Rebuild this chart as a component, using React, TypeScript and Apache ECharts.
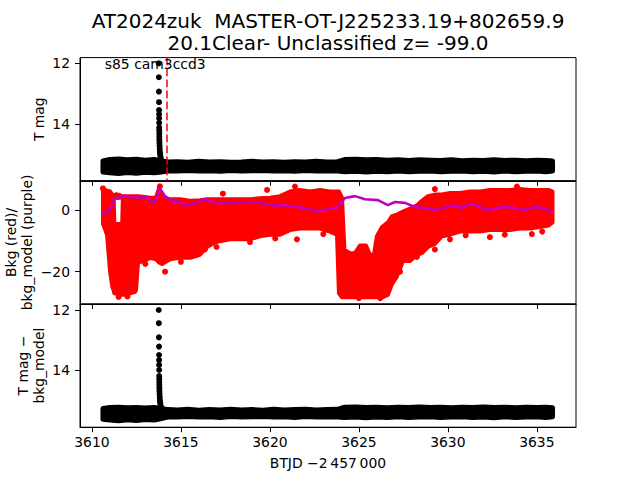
import React, { useEffect, useRef } from "react";
import * as echarts from "echarts";

// ---------- axes ----------
const X_MIN = 3609.33;
const X_MAX = 3637.2;
const xTicks = [3610, 3615, 3620, 3625, 3630, 3635];
const magTicks = [12, 14];
const bkgTicks = [-20, 0];

// ---------- panel 1 / 3 : quiescent band (envelope of the dense points) ----------
const bandTimes = [
  3610.62, 3611.0, 3611.5, 3612.0, 3612.5, 3613.0, 3613.5, 3613.9, 3614.3, 3614.8,
  3615.4, 3616.0, 3616.6, 3617.2, 3617.8, 3618.4, 3619.0, 3619.6, 3620.2, 3620.8,
  3621.4, 3622.0, 3622.6, 3623.2, 3623.8, 3624.2, 3624.8, 3625.4, 3626.0, 3626.6,
  3627.2, 3627.8, 3628.4, 3629.0, 3629.6, 3630.2, 3630.8, 3631.4, 3632.0, 3632.6,
  3633.2, 3633.8, 3634.4, 3635.0, 3635.5, 3635.88,
];
const magBright = [
  15.22, 15.17, 15.15, 15.18, 15.16, 15.19, 15.17, 15.22, 15.25, 15.24,
  15.26, 15.23, 15.25, 15.24, 15.26, 15.25, 15.23, 15.25, 15.24, 15.26,
  15.24, 15.25, 15.23, 15.25, 15.24, 15.17, 15.16, 15.18, 15.17, 15.19,
  15.18, 15.2, 15.18, 15.19, 15.2, 15.18, 15.21, 15.19, 15.2, 15.18,
  15.2, 15.19, 15.21, 15.19, 15.2, 15.22,
];
const magFaint = [
  15.58, 15.61, 15.63, 15.6, 15.62, 15.59, 15.61, 15.58, 15.54, 15.55,
  15.53, 15.55, 15.54, 15.56, 15.53, 15.55, 15.54, 15.53, 15.55, 15.54,
  15.56, 15.53, 15.55, 15.54, 15.55, 15.57, 15.56, 15.58, 15.56, 15.57,
  15.55, 15.57, 15.56, 15.55, 15.57, 15.56, 15.55, 15.57, 15.56, 15.58,
  15.55, 15.57, 15.56, 15.55, 15.57, 15.55,
];
const diffBright = [
  15.28, 15.25, 15.24, 15.26, 15.25, 15.27, 15.25, 15.28, 15.32, 15.33,
  15.31, 15.34, 15.32, 15.33, 15.31, 15.33, 15.32, 15.34, 15.31, 15.33,
  15.32, 15.31, 15.33, 15.32, 15.31, 15.24, 15.23, 15.25, 15.24, 15.26,
  15.24, 15.25, 15.23, 15.25, 15.24, 15.26, 15.24, 15.25, 15.23, 15.25,
  15.24, 15.26, 15.24, 15.25, 15.24, 15.26,
];
const diffFaint = [
  15.64, 15.67, 15.69, 15.66, 15.68, 15.65, 15.67, 15.62, 15.56, 15.57,
  15.55, 15.57, 15.56, 15.58, 15.55, 15.57, 15.56, 15.55, 15.57, 15.56,
  15.58, 15.55, 15.57, 15.56, 15.57, 15.58, 15.57, 15.59, 15.57, 15.58,
  15.56, 15.58, 15.57, 15.56, 15.58, 15.57, 15.56, 15.58, 15.57, 15.59,
  15.56, 15.58, 15.57, 15.56, 15.58, 15.56,
];

// ---------- flare points ----------
const flareTimes = [
  3613.755, 3613.76, 3613.765, 3613.77, 3613.772, 3613.774, 3613.776, 3613.778, 3613.78, 3613.782,
  3613.785, 3613.788, 3613.79, 3613.795, 3613.8, 3613.81, 3613.82, 3613.835, 3613.85, 3613.87,
];
const flareMags = [
  12.0, 12.46, 12.93, 13.28, 13.54, 13.68, 13.81, 13.96, 14.12, 14.22,
  14.32, 14.42, 14.52, 14.62, 14.72, 14.82, 14.92, 15.0, 15.08, 15.15,
];
const flareDiff = [
  12.0, 12.44, 12.91, 13.22, 13.5, 13.67, 13.83, 14.0, 14.2, 14.3,
  14.4, 14.5, 14.6, 14.7, 14.8, 14.9, 15.0, 15.08, 15.16, 15.22,
];
const markerTime = 3614.2;

// ---------- panel 2 : background (red envelope) ----------
const bkgTimes = [
  3610.62, 3610.85, 3611.02, 3611.15, 3611.22, 3611.26, 3611.7, 3611.74, 3611.8, 3612.14,
  3612.42, 3612.48, 3612.59, 3612.98, 3613.26, 3613.6, 3613.77, 3613.94, 3614.39, 3614.95,
  3615.51, 3616.07, 3616.46, 3616.91, 3617.76, 3618.88, 3619.44, 3620.0, 3620.57, 3621.13,
  3621.69, 3622.25, 3622.81, 3623.37, 3623.77, 3623.88, 3624.05, 3624.19, 3624.5, 3624.78,
  3625.06, 3625.4, 3625.62, 3625.85, 3626.01, 3626.3, 3626.63, 3626.86, 3627.14, 3627.48,
  3627.87, 3628.26, 3628.54, 3628.88, 3629.27, 3629.67, 3630.12, 3630.68, 3631.24, 3631.8,
  3632.36, 3632.93, 3633.49, 3634.05, 3634.61, 3635.17, 3635.66, 3635.88,
];
const bkgHigh = [
  6.5, 6.3, 6.0, 5.0, 4.5, -4.5, -4.5, 4.5, 4.5, 4.5,
  4.5, 4.5, 4.5, 4.2, 4.0, 4.0, 7.0, 4.0, 3.5, 3.5,
  3.0, 3.2, 3.5, 3.5, 3.5, 3.5, 3.8, 4.0, 4.5, 6.0,
  6.5, 6.0, 6.5, 6.0, 6.0, 6.0, 4.0, -13, -14, -14,
  -11.5, -11.5, -14.5, -14.5, -8.5, -5.5, -4, -2, -1.5, -0.5,
  0.5, 1.5, 3, 4.5, 5, 5, 5.5, 5.5, 6, 6,
  6.5, 6.5, 6.5, 6.8, 6.5, 6.5, 6.5, 6,
];
const bkgLow = [
  -4.5, -8, -20, -25, -26, -27, -27.5, -27.5, -27.5, -27,
  -26.5, -26, -17, -16.5, -15.5, -16, -17, -17.5, -16, -15.5,
  -15.5, -14.5, -12, -10.5, -9.5, -9.5, -8.5, -8, -8, -6.5,
  -6, -6, -6, -7, -8, -27, -28.3, -28.3, -28.3, -28.3,
  -28.3, -28.3, -28.3, -28.3, -28.3, -28.3, -27.5, -24, -21.5, -16.5,
  -16.5, -14.5, -14, -12, -11, -8.5, -8, -7, -7, -7,
  -6.5, -6.5, -6.5, -6, -6, -5.5, -5, -4,
];
// isolated red points outside the envelope
const bkgOutTimes = [
  3611.3, 3611.38, 3611.46, 3611.54, 3611.62, 3614.11, 3616.35, 3618.88, 3621.52, 3627.31,
  3628.26, 3629.27, 3632.36, 3634.72, 3630.12, 3633.88, 3629.27, 3621.41, 3619.84, 3617.36,
  3613.82, 3610.62, 3612.0, 3611.5, 3625.0, 3626.2, 3613.0, 3615.0, 3617.0, 3620.3,
  3623.0, 3631.0, 3633.2, 3635.3,
];
const bkgOutValues = [
  4.4, 4.8, 4.2, 4.6, 4.3, -20.0, -12.8, -10.4, -9.5, -20.0,
  -15.2, -12.8, -8.8, -7.8, -9.5, 7.6, 6.8, 7.6, 6.5, 5.3,
  7.7, 7.0, -28.0, -28.2, -28.6, -28.6, -17.5, -16.8, -12.0, -9.2,
  -7.8, -8.2, -8.0, -7.0,
];

// ---------- panel 2 : background model (purple line) ----------
const modelTimes = [
  3610.55, 3611.02, 3611.3, 3611.86, 3612.42, 3612.98, 3613.54, 3613.82, 3614.11, 3614.5,
  3614.84, 3615.34, 3615.79, 3616.35, 3616.91, 3618.04, 3619.16, 3620.12, 3621.02, 3621.97,
  3622.7, 3623.37, 3623.77, 3624.22, 3624.78, 3625.34, 3626.07, 3626.63, 3627.03, 3627.59,
  3628.15, 3628.71, 3629.27, 3629.84, 3630.4, 3630.79, 3631.13, 3631.69, 3632.25, 3633.04,
  3633.6, 3634.33, 3634.89, 3635.44, 3635.88,
];
const modelValues = [
  -1.5, 0, 3.8, 4.6, 4.0, 4.2, 2.5, 7.0, 4.5, 2.8,
  2.8, 1.4, 2.3, 3.5, 2.3, 2.3, 2.6, 1.6, 1.4, 0.6,
  -0.5, 0.6, 0.6, 3.9, 4.5, 3.5, 3.2, 1.6, 2.6, 2.3,
  1.0, 0.6, 0.0, 0.8, 1.6, 0.6, 2.0, 1.3, 0.0, 1.0,
  0.8, 0.0, 1.0, 0.6, -0.8,
];

// ---------- texts ----------
const titleLines = ["AT2024zuk  MASTER-OT-J225233.19+802659.9", "20.1Clear- Unclassified z= -99.0"];
const sectorLabel = "s85 cam3ccd3";
const yTitles = ["T mag", "Bkg (red)/\nbkg_model (purple)", "T mag \u2212\nbkg_model"];
const xTitle = "BTJD \u22122\u2009457\u2009000";

const FONT = "DejaVu Sans";
const GRID_LEFT = 80;
const GRID_WIDTH = 496;
const GRID_TOPS = [57.6, 180.8, 304];
const GRID_H = 123.2;

function bandSeries(idx: number, times: number[], a: number[], b: number[], color: string, lw: number, z: number) {
  return {
    type: "custom",
    xAxisIndex: idx,
    yAxisIndex: idx,
    silent: true,
    z,
    data: times.map((t, i) => [t, a[i], b[i]]),
    encode: { x: 0, y: [1, 2] },
    renderItem: (params: any, api: any) => {
      if (params.dataIndex !== 0) return null;
      const upper = times.map((t, i) => api.coord([t, a[i]]));
      const lower = times.map((t, i) => api.coord([t, b[i]])).reverse();
      return {
        type: "polygon",
        shape: { points: upper.concat(lower) },
        style: { fill: color, stroke: color, lineWidth: lw, lineJoin: "round" },
      };
    },
  };
}

export default function App() {
  const ref = useRef<HTMLDivElement>(null);
  useEffect(() => {
    if (!ref.current) return;
    const chart = echarts.init(ref.current, undefined, { renderer: "svg" });
    const tickLabel = { color: "#000", fontSize: 13.9, fontFamily: FONT };
    const minusFmt = (v: number) => (v < 0 ? "\u2212" + Math.abs(v) : String(v));
    const plainFmt = (v: number) => String(v);

    const grids = GRID_TOPS.map((top) => ({
      left: GRID_LEFT,
      top,
      width: GRID_WIDTH,
      height: GRID_H,
      show: true,
      borderColor: "#000",
      borderWidth: 1,
      backgroundColor: "transparent",
    }));

    const xAxes = [0, 1, 2].map((i) => ({
      type: "value",
      gridIndex: i,
      min: X_MIN,
      max: X_MAX,
      position: "bottom",
      axisLine: { show: true, onZero: false, lineStyle: { color: "#000", width: 1 } },
      axisTick: { show: true, customValues: xTicks, length: 5, lineStyle: { color: "#000", width: 1 } },
      axisLabel: { show: i === 2, customValues: xTicks, margin: 8, formatter: plainFmt, ...tickLabel },
      splitLine: { show: false },
    }));

    const yBase = {
      type: "value",
      axisLine: { show: true, onZero: false, lineStyle: { color: "#000", width: 1 } },
      splitLine: { show: false },
    };
    const yAxes = [
      {
        ...yBase,
        gridIndex: 0,
        inverse: true,
        min: 11.812,
        max: 15.871,
        axisTick: { show: true, customValues: magTicks, length: 5, lineStyle: { color: "#000" } },
        axisLabel: { customValues: magTicks, margin: 10, formatter: plainFmt, ...tickLabel },
      },
      {
        ...yBase,
        gridIndex: 1,
        min: -30.47,
        max: 9.47,
        axisTick: { show: true, customValues: bkgTicks, length: 5, lineStyle: { color: "#000" } },
        axisLabel: { customValues: bkgTicks, margin: 10, formatter: minusFmt, ...tickLabel },
      },
      {
        ...yBase,
        gridIndex: 2,
        inverse: true,
        min: 11.8,
        max: 15.907,
        axisTick: { show: true, customValues: magTicks, length: 5, lineStyle: { color: "#000" } },
        axisLabel: { customValues: magTicks, margin: 10, formatter: plainFmt, ...tickLabel },
      },
    ];

    const series: any[] = [
      bandSeries(0, bandTimes, magBright, magFaint, "#000", 5, 2),
      {
        type: "scatter",
        xAxisIndex: 0,
        yAxisIndex: 0,
        symbol: "circle",
        symbolSize: 6,
        itemStyle: { color: "#000", opacity: 1 },
        silent: true,
        z: 3,
        data: flareTimes.map((t, i) => [t, flareMags[i]]),
        markLine: {
          silent: true,
          symbol: ["none", "none"],
          label: { show: false },
          lineStyle: { color: "#ff0000", type: [7.7, 3.3], width: 1.5, opacity: 1 },
          data: [{ xAxis: markerTime }],
        },
      },
      bandSeries(1, bkgTimes, bkgHigh, bkgLow, "#ff0000", 4, 2),
      {
        type: "scatter",
        xAxisIndex: 1,
        yAxisIndex: 1,
        symbol: "circle",
        symbolSize: 6,
        itemStyle: { color: "#ff0000", opacity: 1 },
        silent: true,
        z: 3,
        data: bkgOutTimes.map((t, i) => [t, bkgOutValues[i]]),
      },
      {
        type: "line",
        xAxisIndex: 1,
        yAxisIndex: 1,
        showSymbol: false,
        silent: true,
        z: 4,
        lineStyle: { color: "#bf00bf", width: 2.6 },
        data: modelTimes.map((t, i) => [t, modelValues[i]]),
      },
      bandSeries(2, bandTimes, diffBright, diffFaint, "#000", 5, 2),
      {
        type: "scatter",
        xAxisIndex: 2,
        yAxisIndex: 2,
        symbol: "circle",
        symbolSize: 6,
        itemStyle: { color: "#000", opacity: 1 },
        silent: true,
        z: 3,
        data: flareTimes.map((t, i) => [t, flareDiff[i]]),
      },
    ];

    const txt = (text: string, size: number) => ({
      text,
      fontSize: size,
      fontFamily: FONT,
      fill: "#000",
      align: "center",
      verticalAlign: "middle",
      lineHeight: size * 1.2,
    });

    const graphic: any[] = [
      { type: "text", x: 328, y: 20.5, z: 100, style: txt(titleLines[0], 20) },
      { type: "text", x: 328, y: 42.5, z: 100, style: txt(titleLines[1], 20) },
      { type: "text", x: 328, y: 463, z: 100, style: txt(xTitle, 13.9) },
      { type: "text", x: 39, y: 119.2, rotation: Math.PI / 2, z: 100, style: txt(yTitles[0], 13.9) },
      { type: "text", x: 19, y: 242.4, rotation: Math.PI / 2, z: 100, style: txt(yTitles[1], 13.9) },
      { type: "text", x: 31, y: 365.6, rotation: Math.PI / 2, z: 100, style: txt(yTitles[2], 13.9) },
      {
        type: "text",
        x: 104.8,
        y: 64,
        z: 100,
        style: { ...txt(sectorLabel, 13.9), align: "left" },
      },
    ];

    chart.setOption({
      animation: false,
      backgroundColor: "#fff",
      grid: grids,
      xAxis: xAxes,
      yAxis: yAxes,
      series,
      graphic,
    });
    return () => chart.dispose();
  }, []);
  return <div ref={ref} style={{ position: "fixed", left: 0, top: 0, width: 640, height: 480 }} />;
}
